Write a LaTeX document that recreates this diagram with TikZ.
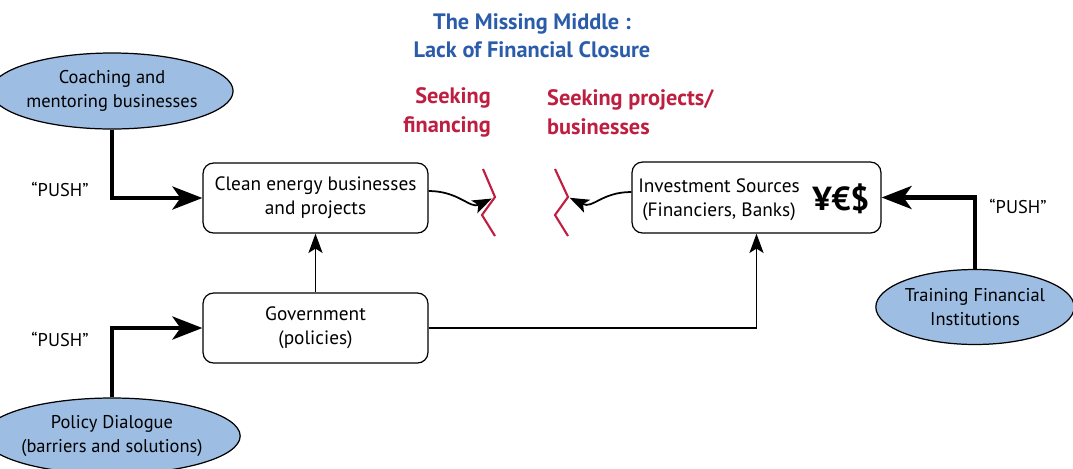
\documentclass[tikz,border=0pt]{standalone}
\usepackage{fontspec}
\setmainfont{PT Sans}
\usetikzlibrary{shapes.geometric,arrows.meta}
\definecolor{titleblue}{RGB}{43,92,170}
\definecolor{seekred}{RGB}{190,30,64}
\definecolor{blobfill}{RGB}{157,189,227}
\tikzset{
  box/.style={draw, rounded corners=6pt, line width=0.7pt, minimum width=4.5cm, minimum height=1.4cm, align=center, font=\fontsize{11}{13.7}\selectfont},
  blob/.style={ellipse, draw, fill=blobfill, line width=0.7pt, minimum width=4.08cm, minimum height=1.52cm, align=center, inner sep=0pt},
  push/.style={line width=2.8pt, -{Stealth[length=17pt,width=13pt,inset=4.5pt]}},
  flow/.style={line width=1pt, -{Stealth[length=11pt,width=8pt,inset=2.5pt]}},
  gap/.style={seekred, line width=1.2pt},
  seek/.style={text=seekred, font=\bfseries\fontsize{12.7}{16.5}\selectfont}
}
\begin{document}
\begin{tikzpicture}[x=0.02cm,y=-0.02cm,font=\fontsize{10.5}{13.7}\selectfont]
\useasboundingbox (0,0) rectangle (1073,468);
% headings
\node[text=titleblue, font=\bfseries\fontsize{12.7}{16}\selectfont, align=center] (title) at (532,36) {The Missing Middle :\\Lack of Financial Closure};
\node[seek, align=right, anchor=east] (seekfin) at (497,112) {Seeking\\financing};
\node[seek, align=left, anchor=west] (seekproj) at (541,112) {Seeking projects/\\businesses};

% boxes
\node[box] (clean) at (315.5,198) {Clean energy businesses\\and projects};
\node[box] (govt) at (315.5,328) {Government\\(policies)};
\node[box, minimum width=4.98cm, minimum height=1.42cm] (invest) at (756.5,197.5) {};
\node[align=center, font=\fontsize{11}{13.7}\selectfont] (investtxt) at (719,200) {Investment Sources\\(Financiers, Banks)};
\node[font=\bfseries\fontsize{19}{19}\selectfont] (money) at (841,199) {¥€\$};

% ellipses
\node[blob] (coach) at (112,91) {Coaching and\\mentoring businesses};
\node[blob] (dialogue) at (112,436) {Policy Dialogue\\(barriers and solutions)};
\node[blob, minimum width=3.92cm, minimum height=1.5cm] (training) at (975,307) {Training Financial\\Institutions};

% the gap
\coordinate (gapL) at (495,197);
\coordinate (gapR) at (568,197);
\draw[gap] (483,169) -- (gapL) -- (482,215) -- (495,236);
\draw[gap] (555,169) -- (gapR) -- (555,215) -- (568,236);

% pushes
\draw[push] (coach.south) |- (clean.west);
\draw[push] (dialogue.north) |- (govt.west);
\draw[push] (training.north) |- (invest.east);
\node (push1) at (60,189) {“PUSH”};
\node (push2) at (60,339) {“PUSH”};
\node (push3) at (1018,206) {“PUSH”};

% flows
\draw[flow] (govt.north) -- (clean.south);
\draw[flow] (govt.east) -| (invest.south);
\draw[flow, shorten >=2pt] ([yshift=0.14cm]clean.east) .. controls +(30,0) and +(-25,12) .. (gapL);
\draw[flow, shorten >=1pt] ([yshift=0.11cm]invest.west) .. controls +(-30,0) and +(25,12) .. (gapR);
\end{tikzpicture}
\end{document}
